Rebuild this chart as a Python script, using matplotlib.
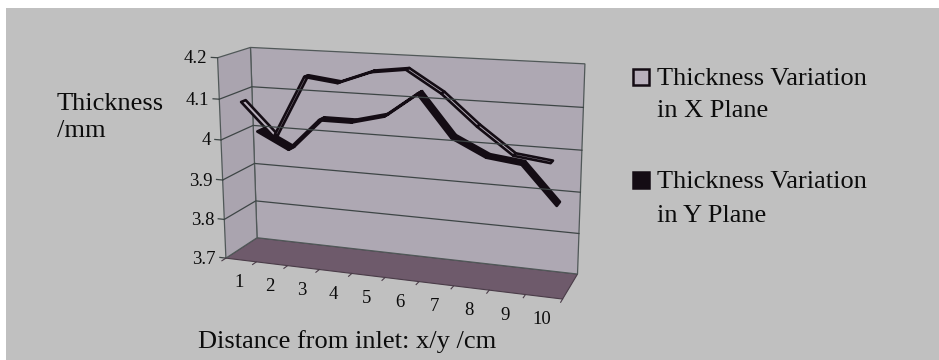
import numpy as np
import matplotlib
matplotlib.use("Agg")
import matplotlib.pyplot as plt
from matplotlib.patches import Polygon, Rectangle

# ---------------- data ----------------
categories = ["1", "2", "3", "4", "5", "6", "7", "8", "9", "10"]
x_plane = [4.09, 4.01, 4.16, 4.15, 4.18, 4.19, 4.14, 4.07, 4.01, 4.00]
y_plane = [4.00, 3.96, 4.04, 4.04, 4.06, 4.12, 4.02, 3.98, 3.97, 3.88]
y_ticks = [3.7, 3.8, 3.9, 4.0, 4.1, 4.2]
y_tick_labels = ["3.7", "3.8", "3.9", "4", "4.1", "4.2"]
series_names = [["Thickness Variation", "in X Plane"],
                ["Thickness Variation", "in Y Plane"]]
y_label = ["Thickness", "/mm"]
x_label = "Distance from inlet: x/y /cm"

# ---------------- style / layout ----------------
FONT = "Liberation Serif"
BG = "#c0c0c0"
WALL = "#aea8b3"
SIDE = "#aaa4af"
FLOOR = "#6e5a6b"
GRID = "#3d4545"
DARK = "#140c14"
LIGHT = "#b8b0bc"
TXT = "#0c0c0c"
VMIN, VMAX = y_ticks[0], y_ticks[-1]

# box corners (u: category axis, w: value axis, z: depth 0=back 1=front) -> pixels
corners_3d = np.array([(0, 0, 0), (0, 1, 0), (1, 1, 0), (1, 0, 0),
                       (0, 0, 1), (0, 1, 1), (1, 0, 1)], float)
corners_px = np.array([(257, 238), (250, 48), (585, 64), (578, 273),
                       (226, 258), (218, 57), (562, 300)], float)


def solve_camera(X, x):
    m = x.mean(0)
    s = np.sqrt(2) / np.mean(np.linalg.norm(x - m, axis=1))
    T = np.array([[s, 0, -s * m[0]], [0, s, -s * m[1]], [0, 0, 1]])
    xn = (np.c_[x, np.ones(len(x))] @ T.T)[:, :2]
    rows = []
    for (a, b, c), (u, v) in zip(X, xn):
        rows.append([a, b, c, 1, 0, 0, 0, 0, -u * a, -u * b, -u * c, -u])
        rows.append([0, 0, 0, 0, a, b, c, 1, -v * a, -v * b, -v * c, -v])
    _, _, vt = np.linalg.svd(np.array(rows))
    P = vt[-1].reshape(3, 4)
    return np.linalg.inv(T) @ P


PCAM = solve_camera(corners_3d, corners_px)


def proj(u, w, z):
    u, w, z = np.broadcast_arrays(np.asarray(u, float), np.asarray(w, float), np.asarray(z, float))
    h = np.stack([u, w, z, np.ones_like(u)], -1) @ PCAM.T
    return np.stack([h[..., 0] / h[..., 2], h[..., 1] / h[..., 2]], -1)


def wv(v):
    return (np.asarray(v, float) - VMIN) / (VMAX - VMIN)


n = len(categories)
ucat = (np.arange(n) + 0.5) / n

fig = plt.figure(figsize=(9.39, 3.6), dpi=100)
ax = fig.add_axes([0, 0, 1, 1])
ax.set_xlim(0, 939)
ax.set_ylim(360, 0)
ax.axis("off")
ax.add_patch(Rectangle((6, 8), 933, 352, facecolor=BG, edgecolor="none"))

# floor, back wall, side wall
ax.add_patch(Polygon(proj([0, 1, 1, 0], 0, [0, 0, 1, 1]), closed=True,
                     facecolor=FLOOR, edgecolor="#4a3c48", lw=0.8))
ax.add_patch(Polygon(proj([0, 1, 1, 0], [0, 0, 1, 1], 0), closed=True,
                     facecolor=WALL, edgecolor="#505858", lw=0.9))
ax.add_patch(Polygon(proj(0, [0, 1, 1, 0], [0, 0, 1, 1]), closed=True,
                     facecolor=SIDE, edgecolor="#505858", lw=0.9))

# gridlines on side wall + back wall
for t in y_ticks[1:-1]:
    pts = np.vstack([proj(0, wv(t), 1), proj(0, wv(t), 0), proj(1, wv(t), 0)])
    ax.plot(pts[:, 0], pts[:, 1], color=GRID, lw=0.9)

# value axis ticks and labels
for t, lab in zip(y_ticks, y_tick_labels):
    p = proj(0, wv(t), 1)
    q = proj(-0.02, wv(t), 1)
    ax.plot([p[0], q[0]], [p[1], q[1]], color=GRID, lw=0.9)
    ax.text(p[0] - 10, p[1] + 1, lab, ha="right", va="center",
            fontsize=13.5, family=FONT, color=TXT)

# category ticks and labels
for k in range(n + 1):
    p = proj(k / n, 0, 1)
    q = proj(k / n, 0, 1.12)
    ax.plot([p[0], q[0]], [p[1], q[1]], color="#4a3c48", lw=0.8)
for u, lab in zip(ucat, categories):
    p = proj(u, 0, 1)
    ax.text(p[0] - 2, p[1] + 23, lab, ha="center", va="center",
            fontsize=13.5, family=FONT, color=TXT)


# ribbons
def ribbon(values, zc, face, edge, half, lw):
    w = wv(values)
    for i in range(n - 1):
        quad = np.vstack([proj(ucat[i], w[i], zc - half), proj(ucat[i + 1], w[i + 1], zc - half),
                          proj(ucat[i + 1], w[i + 1], zc + half), proj(ucat[i], w[i], zc + half)])
        ax.add_patch(Polygon(quad, closed=True, facecolor=face, edgecolor=edge,
                             lw=lw, joinstyle="round"))


ribbon(y_plane, 0.25, DARK, DARK, 0.1, 2.0)
ribbon(x_plane, 0.75, LIGHT, DARK, 0.07, 1.9)

# axis titles
ax.text(57, 110, y_label[0], fontsize=19, family=FONT, color=TXT, va="baseline")
ax.text(57, 137, y_label[1], fontsize=19, family=FONT, color=TXT, va="baseline")
ax.text(198, 348, x_label, fontsize=19, family=FONT, color=TXT, va="baseline")

# legend
leg_faces = [LIGHT, DARK]
leg_base = [(85, 117), (188, 222)]
for name, face, (b1, b2) in zip(series_names, leg_faces, leg_base):
    ax.add_patch(Rectangle((633, b1 - 16), 16, 16, facecolor=face, edgecolor=DARK, lw=1.8))
    ax.text(657, b1, name[0], fontsize=19, family=FONT, color=TXT, va="baseline")
    ax.text(657, b2, name[1], fontsize=19, family=FONT, color=TXT, va="baseline")

fig.savefig("out.png", dpi=100, facecolor="white")
